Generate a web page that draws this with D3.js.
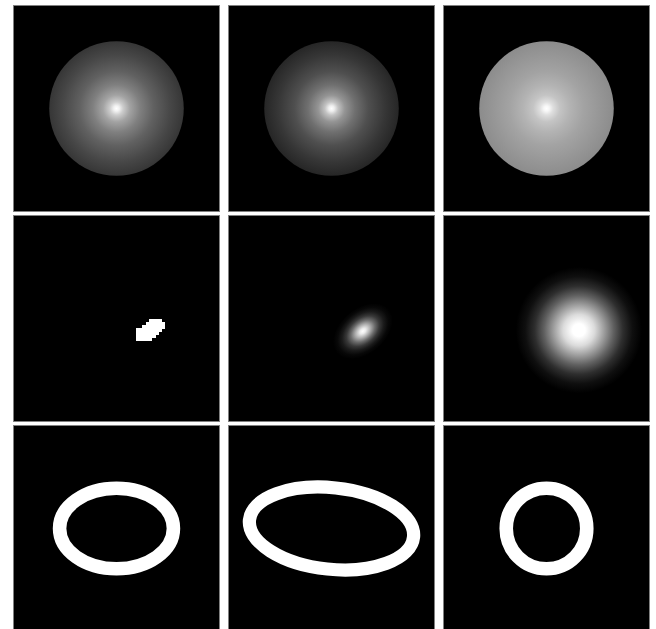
<!DOCTYPE html>
<head>
  <meta charset="utf-8">
  <style>
  body {
    margin: 0;
    background: #fff;
  }

  .chart {
    display: block;
  }

  .panel-bg {
    fill: #000;
  }

  .panel-border {
    fill: none;
    stroke: #808080;
    stroke-width: 1px;
  }
</style>
</head>
<svg class="chart" width="656" height="629"></svg>

<script src="https://d3js.org/d3.v7.min.js"></script>
<script>
// 3x3 grid of image panels, image coordinates run 0..64 inside a panel
var rows = ["spheres", "blobs", "rings"];
var cols = [0, 1, 2];

// row 1: shaded spheres, radial profile as [offset, gray 0..1]
var sphereCenters = [[32, 32], [32, 32], [32, 32]];
var sphereRadii = [20.8, 20.8, 20.8];
var sphereProfiles = [
  [[0, 1], [0.04, 0.95], [0.1, 0.8], [0.2, 0.64], [0.35, 0.5], [0.55, 0.38], [0.8, 0.28], [1, 0.21]],
  [[0, 1], [0.04, 0.94], [0.1, 0.76], [0.2, 0.58], [0.35, 0.44], [0.55, 0.31], [0.8, 0.21], [1, 0.15]],
  [[0, 1], [0.04, 0.97], [0.1, 0.87], [0.2, 0.77], [0.35, 0.7], [0.55, 0.64], [0.8, 0.59], [1, 0.55]]
];

// row 2, panel 1: thresholded blob, cells
var blobOrigin = [38, 32];
var blobMask = [
  "....####.",
  "...######",
  "..#######",
  "########.",
  "#######..",
  "######...",
  "#####...."
];

// row 2, panels 2 and 3: smooth blobs
var glowCenters = [[41.7, 35.9], [42, 35.6]];
var glowRadii = [[10.5, 7], [19.5, 19.5]];
var glowAngles = [-40, 0];
var glowProfiles = [
  [[0, 1], [0.1, 0.92], [0.25, 0.68], [0.4, 0.42], [0.55, 0.22], [0.7, 0.1], [0.85, 0.03], [1, 0]],
  [[0, 1], [0.1, 1], [0.25, 0.86], [0.4, 0.62], [0.55, 0.38], [0.7, 0.18], [0.85, 0.06], [1, 0]]
];

// row 3: rings (midline radii, band width)
var ringCenters = [[32, 32], [32, 32], [32, 32]];
var ringRadii = [[17.6, 12.45], [25.5, 12.6], [12.45, 12.45]];
var ringAngles = [0, 6, 0];
var ringWidths = [4.2, 4.1, 4.2];

var svg = d3.select("svg");
var defs = svg.append("defs");

var x = d3.scaleBand().domain(cols).range([13, 650]).paddingInner(8 / 215),
  y = d3.scaleBand().domain(rows).range([5, 632]).paddingInner(3 / 210),
  u = d3.scaleLinear().domain([0, 64]).range([0, x.bandwidth()]);

function gray(v) {
  var c = Math.round(Math.max(0, Math.min(1, v)) * 255);
  return d3.rgb(c, c, c).formatHex();
}

function gradient(id, profile) {
  defs.append("radialGradient")
    .attr("id", id)
    .selectAll("stop")
    .data(profile)
    .enter()
    .append("stop")
    .attr("offset", function(d) { return d[0]; })
    .attr("stop-color", function(d) { return gray(d[1]); });
  return "url(#" + id + ")";
}

function panel(r, c) {
  var g = svg.append("g")
    .attr("transform", "translate(" + x(c) + "," + y(r) + ")");
  var id = "clip-" + r + "-" + c;
  defs.append("clipPath").attr("id", id)
    .append("rect").attr("width", x.bandwidth()).attr("height", y.bandwidth());
  g.append("rect")
    .attr("class", "panel-bg")
    .attr("width", x.bandwidth())
    .attr("height", y.bandwidth());
  var inner = g.append("g").attr("clip-path", "url(#" + id + ")");
  inner.border = function() {
    g.append("rect")
      .attr("class", "panel-border")
      .attr("x", 0.5).attr("y", 0.5)
      .attr("width", x.bandwidth() - 1)
      .attr("height", y.bandwidth() - 1);
  };
  return inner;
}

// row 1
cols.forEach(function(c) {
  var p = panel("spheres", c);
  p.append("circle")
    .attr("cx", u(sphereCenters[c][0]))
    .attr("cy", u(sphereCenters[c][1]))
    .attr("r", u(sphereRadii[c]))
    .attr("fill", gradient("sphere" + c, sphereProfiles[c]));
  p.border();
});

// row 2
var p0 = panel("blobs", 0);
var cells = [];
blobMask.forEach(function(line, j) {
  line.split("").forEach(function(ch, k) {
    if (ch === "#") cells.push([blobOrigin[0] + k, blobOrigin[1] + j]);
  });
});
p0.selectAll(".cell")
  .data(cells)
  .enter()
  .append("rect")
  .attr("class", "cell")
  .attr("x", function(d) { return u(d[0]); })
  .attr("y", function(d) { return u(d[1]); })
  .attr("width", u(1) + 0.3)
  .attr("height", u(1) + 0.3)
  .attr("fill", "#fff")
  .attr("shape-rendering", "crispEdges");
p0.border();

[1, 2].forEach(function(c, i) {
  var p = panel("blobs", c);
  p.append("ellipse")
    .attr("transform", "translate(" + u(glowCenters[i][0]) + "," + u(glowCenters[i][1]) + ") rotate(" + glowAngles[i] + ")")
    .attr("rx", u(glowRadii[i][0]))
    .attr("ry", u(glowRadii[i][1]))
    .attr("fill", gradient("glow" + c, glowProfiles[i]));
  p.border();
});

// row 3
cols.forEach(function(c) {
  var p = panel("rings", c);
  p.append("ellipse")
    .attr("transform", "translate(" + u(ringCenters[c][0]) + "," + u(ringCenters[c][1]) + ") rotate(" + ringAngles[c] + ")")
    .attr("rx", u(ringRadii[c][0]))
    .attr("ry", u(ringRadii[c][1]))
    .attr("fill", "none")
    .attr("stroke", "#fff")
    .attr("stroke-width", u(ringWidths[c]));
  p.border();
});
</script>
